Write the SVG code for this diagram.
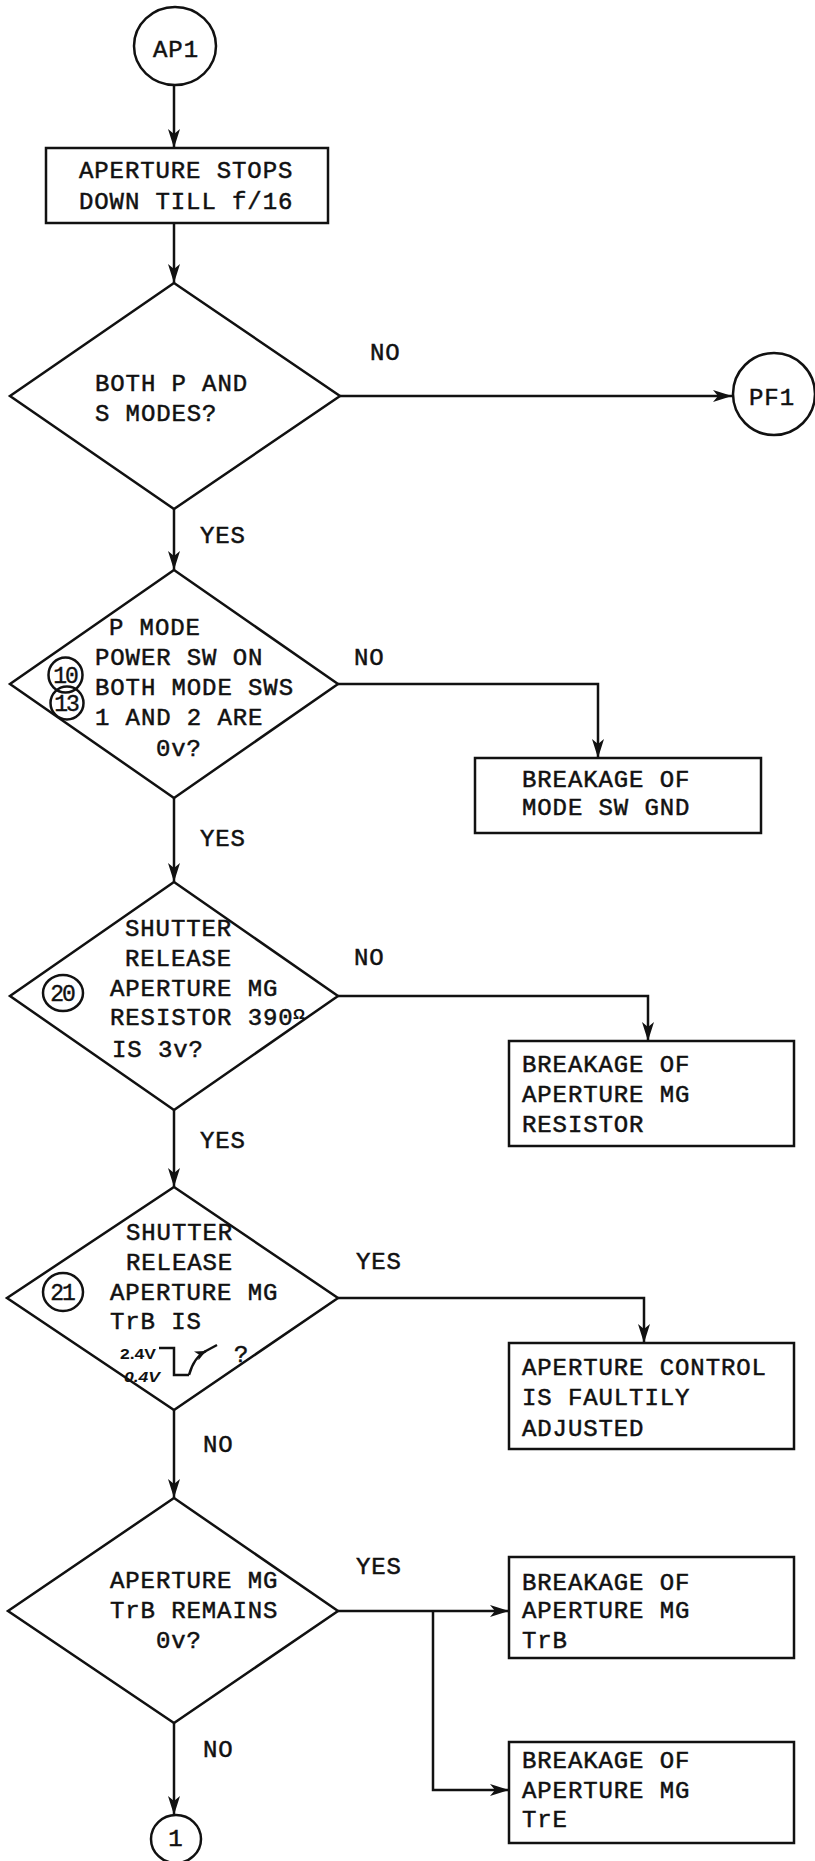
<svg xmlns="http://www.w3.org/2000/svg" width="815" height="1861" viewBox="0 0 815 1861">
<style>
.s{fill:none;stroke:#111;stroke-width:2.5}
.t{font-family:"Liberation Mono",monospace;font-size:24px;letter-spacing:0.9px;fill:#111;stroke:#111;stroke-width:0.5}
.n{font-family:"Liberation Mono",monospace;font-size:23px;letter-spacing:-2px;fill:#111;stroke:#111;stroke-width:0.4;text-anchor:middle}
.v{font-family:"Liberation Sans",sans-serif;font-size:15px;font-weight:bold;fill:#111}
.c{fill:none;stroke:#111;stroke-width:2.5}
</style>
<defs>
<marker id="ah" markerWidth="20" markerHeight="14" refX="19" refY="7" orient="auto" markerUnits="userSpaceOnUse">
<path d="M0,1 L19,7 L0,13 L5,7 Z" fill="#111"/>
</marker>
<marker id="sah" markerWidth="12" markerHeight="10" refX="11" refY="5" orient="auto" markerUnits="userSpaceOnUse">
<path d="M0,0 L11,5 L0,10 L3,5 Z" fill="#111"/>
</marker>
</defs>
<rect width="815" height="1861" fill="#fff"/>

<g id="connectors">
<path class="c" d="M174,85 V148" marker-end="url(#ah)"/>
<path class="c" d="M174,223 V283" marker-end="url(#ah)"/>
<path class="c" d="M340,396 H732" marker-end="url(#ah)"/>
<path class="c" d="M174,509 V570" marker-end="url(#ah)"/>
<path class="c" d="M338,684 H598 V758" marker-end="url(#ah)"/>
<path class="c" d="M174,798 V882" marker-end="url(#ah)"/>
<path class="c" d="M338,996 H648 V1041" marker-end="url(#ah)"/>
<path class="c" d="M174,1110 V1187" marker-end="url(#ah)"/>
<path class="c" d="M338,1298 H644 V1343" marker-end="url(#ah)"/>
<path class="c" d="M174,1410 V1498" marker-end="url(#ah)"/>
<path class="c" d="M338,1611 H509" marker-end="url(#ah)"/>
<path class="c" d="M433,1611 V1790 H509" marker-end="url(#ah)"/>
<path class="c" d="M174,1723 V1815" marker-end="url(#ah)"/>
<text class="t" x="370" y="360">NO</text>
<text class="t" x="200" y="543">YES</text>
<text class="t" x="354" y="665">NO</text>
<text class="t" x="200" y="846">YES</text>
<text class="t" x="354" y="965">NO</text>
<text class="t" x="200" y="1148">YES</text>
<text class="t" x="356" y="1269">YES</text>
<text class="t" x="203" y="1452">NO</text>
<text class="t" x="356" y="1574">YES</text>
<text class="t" x="203" y="1757">NO</text>
</g>

<g id="ap1">
<ellipse class="s" cx="175" cy="46" rx="41" ry="39"/>
<text class="t" x="176" y="57" text-anchor="middle">AP1</text>
</g>

<g id="box-stops">
<rect class="s" x="46" y="148" width="282" height="75"/>
<text class="t" x="79" y="178">APERTURE STOPS</text>
<text class="t" x="79" y="209">DOWN TILL f/16</text>
</g>

<g id="d1">
<polygon class="s" points="174,283 340,396 174,509 10,396"/>
<text class="t" x="95" y="391">BOTH P AND</text>
<text class="t" x="95" y="421">S MODES?</text>
</g>

<g id="pf1">
<ellipse class="s" cx="774" cy="394" rx="41" ry="41"/>
<text class="t" x="772" y="405" text-anchor="middle">PF1</text>
</g>

<g id="d2">
<polygon class="s" points="174,570 338,684 174,798 10,684"/>
<text class="t" x="109" y="635">P MODE</text>
<text class="t" x="95" y="665">POWER SW ON</text>
<text class="t" x="95" y="695">BOTH MODE SWS</text>
<text class="t" x="95" y="725">1 AND 2 ARE</text>
<text class="t" x="156" y="756">0v?</text>
<ellipse class="s" cx="65.5" cy="675" rx="17" ry="17.5"/>
<text class="n" x="65" y="683">10</text>
<ellipse class="s" cx="67" cy="703" rx="16.5" ry="16.5"/>
<text class="n" x="66" y="711">13</text>
</g>

<g id="box-modesw">
<rect class="s" x="475" y="758" width="286" height="75"/>
<text class="t" x="522" y="787">BREAKAGE OF</text>
<text class="t" x="522" y="815">MODE SW GND</text>
</g>

<g id="d3">
<polygon class="s" points="174,882 338,996 174,1110 10,996"/>
<text class="t" x="125" y="936">SHUTTER</text>
<text class="t" x="125" y="966">RELEASE</text>
<text class="t" x="110" y="996">APERTURE MG</text>
<text class="t" x="110" y="1025">RESISTOR 390</text>
<text class="v" x="293" y="1019" font-weight="normal">Ω</text>
<text class="t" x="112" y="1057">IS 3v?</text>
<ellipse class="s" cx="63" cy="993" rx="20" ry="18"/>
<text class="n" x="62" y="1001">20</text>
</g>

<g id="box-resistor">
<rect class="s" x="509" y="1041" width="285" height="105"/>
<text class="t" x="522" y="1072">BREAKAGE OF</text>
<text class="t" x="522" y="1102">APERTURE MG</text>
<text class="t" x="522" y="1132">RESISTOR</text>
</g>

<g id="d4">
<polygon class="s" points="174,1187 338,1298 174,1410 7,1298"/>
<text class="t" x="126" y="1240">SHUTTER</text>
<text class="t" x="126" y="1270">RELEASE</text>
<text class="t" x="110" y="1300">APERTURE MG</text>
<text class="t" x="110" y="1329">TrB IS</text>
<ellipse class="s" cx="63" cy="1292" rx="20" ry="19"/>
<text class="n" x="62" y="1300">21</text>
<text class="v" x="120" y="1359" textLength="36" lengthAdjust="spacingAndGlyphs">2.4V</text>
<text class="v" x="124" y="1382" textLength="36" lengthAdjust="spacingAndGlyphs" font-style="italic">0.4V</text>
<path class="c" d="M159,1348 H174 V1375 H189" stroke-width="2"/>
<path class="c" d="M189,1375 Q194,1357 206,1351" stroke-width="2" marker-end="url(#sah)"/>
<path class="c" d="M204,1352 L217,1345" stroke-width="2"/>
<text class="t" x="234" y="1362">?</text>
</g>

<g id="box-control">
<rect class="s" x="509" y="1343" width="285" height="106"/>
<text class="t" x="522" y="1375">APERTURE CONTROL</text>
<text class="t" x="522" y="1405">IS FAULTILY</text>
<text class="t" x="522" y="1436">ADJUSTED</text>
</g>

<g id="d5">
<polygon class="s" points="174,1498 338,1611 174,1723 8,1611"/>
<text class="t" x="110" y="1588">APERTURE MG</text>
<text class="t" x="110" y="1618">TrB REMAINS</text>
<text class="t" x="156" y="1648">0v?</text>
</g>

<g id="box-trb">
<rect class="s" x="509" y="1557" width="285" height="101"/>
<text class="t" x="522" y="1590">BREAKAGE OF</text>
<text class="t" x="522" y="1618">APERTURE MG</text>
<text class="t" x="522" y="1648">TrB</text>
</g>

<g id="box-tre">
<rect class="s" x="509" y="1742" width="285" height="101"/>
<text class="t" x="522" y="1768">BREAKAGE OF</text>
<text class="t" x="522" y="1798">APERTURE MG</text>
<text class="t" x="522" y="1827">TrE</text>
</g>

<g id="c1">
<ellipse class="s" cx="176" cy="1839" rx="25" ry="24"/>
<text class="t" x="176" y="1846" text-anchor="middle">1</text>
</g>
</svg>
